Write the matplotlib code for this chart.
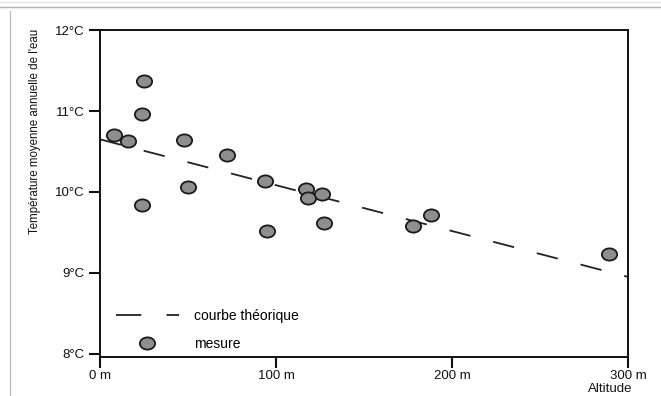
import matplotlib
matplotlib.use("Agg")
import matplotlib.pyplot as plt
from matplotlib.lines import Line2D
from matplotlib.path import Path
from matplotlib.transforms import Affine2D
import numpy as np

# measured points (altitude in m, temperature in degC)
altitude = [8, 16, 25, 24, 24, 48, 50, 72, 94, 95, 117, 118, 126, 127, 178, 188, 289]
temperature = [10.70, 10.63, 11.37, 10.96, 9.84, 10.64, 10.06, 10.46, 10.14, 9.52,
               10.03, 9.92, 9.98, 9.61, 9.58, 9.72, 9.23]

# theoretical line end points
theo_alt = [0, 300]
theo_temp = [10.65, 8.95]

yticks = [8, 9, 10, 11, 12]
ytick_labels = ["8°C", "9°C", "10°C", "11°C", "12°C"]
xticks = [0, 100, 200, 300]
xtick_labels = ["0 m", "100 m", "200 m", "300 m"]

plt.rcParams['font.family'] = ['Liberation Sans', 'DejaVu Sans']

fig = plt.figure(figsize=(6.61, 3.96), dpi=100)
ax = fig.add_axes([0.1513, 0.0985, 0.7987, 0.8255])

# slightly flattened disc, like the scanned markers
ellipse = Path.unit_circle().transformed(Affine2D().scale(1.0, 0.8))

dash = (0, (12, 13))
ax.plot(theo_alt, theo_temp, color="#222222", lw=1.3, linestyle=dash, zorder=2)
ax.plot(altitude, temperature, linestyle="none", marker=ellipse, markersize=11,
        markerfacecolor="#8e8e8e", markeredgecolor="#1a1a1a", markeredgewidth=1.3, zorder=3)

ax.set_xlim(0, 300)
ax.set_ylim(7.96, 12)
ax.set_xticks(xticks)
ax.set_xticklabels(xtick_labels)
ax.set_yticks(yticks)
ax.set_yticklabels(ytick_labels)
ax.tick_params(direction="out", length=8, width=1.5, labelsize=9.5, colors="#111111", pad=3)
ax.tick_params(axis="x", pad=1.5)
for s in ax.spines.values():
    s.set_linewidth(1.4)
    s.set_color("#111111")

# legend, drawn without frame in lower left corner
h_line = Line2D([], [], color="#222222", lw=1.3, linestyle=(0, (14, 14, 8, 20)))
h_pt = Line2D([], [], linestyle="none", marker=ellipse, markersize=11,
              markerfacecolor="#8e8e8e", markeredgecolor="#1a1a1a", markeredgewidth=1.3)
ax.legend([h_line, h_pt], ["courbe théorique", "mesure"], loc="lower left",
          bbox_to_anchor=(0.004, -0.025), frameon=False, fontsize=10, handlelength=4.5,
          handletextpad=1.1, labelspacing=1.05, borderaxespad=0.6)

fig.text(0.053, 0.667, "Température moyenne annuelle de l'eau", rotation=90,
         ha="center", va="center", fontsize=8.3, color="#111111")
fig.text(0.923, 0.017, "Altitude", ha="center", va="center", fontsize=9.5, color="#111111")

# faint scan border
fig.add_artist(Line2D([0.0, 1.0], [0.982, 0.982], color="#b5b5b5", lw=1.0))
fig.add_artist(Line2D([0.0, 1.0], [0.996, 0.996], color="#e2e2e2", lw=0.8))
fig.add_artist(Line2D([0.0151, 0.0151], [0.0, 0.972], color="#bdbdbd", lw=0.9))

fig.savefig("out.png", dpi=100)
